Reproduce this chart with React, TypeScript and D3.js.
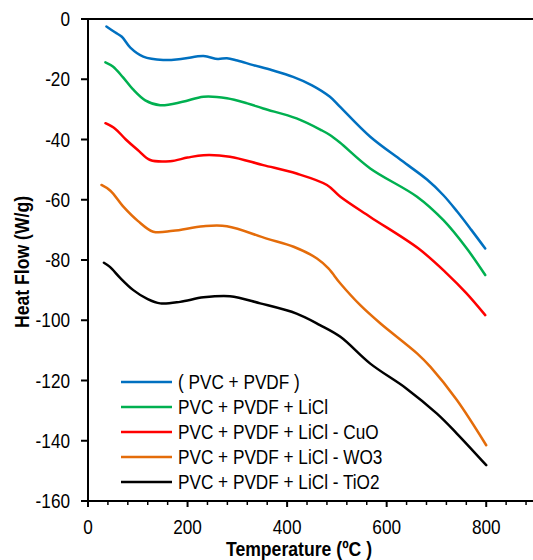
import React from "react";
import * as d3 from "d3";

const tBlue = [37, 55, 68, 85, 111, 151, 190, 232, 261, 279, 300, 332, 370, 412, 450, 486, 506, 567, 630, 681, 714, 742, 770, 798];
const hfBlue = [-2.5, -4.5, -5.9, -9.5, -12.5, -13.6, -13.2, -12.3, -13.3, -13.0, -13.8, -15.3, -17.0, -19.2, -22.0, -25.8, -29.1, -39.1, -47, -53.3, -58.5, -64, -70, -76.2];

const tGreen = [35, 50, 70, 90, 115, 145, 190, 232, 279, 320, 352, 419, 470, 486, 506, 567, 661, 714, 761, 798];
const hfGreen = [-14.4, -15.8, -19.3, -23.3, -27, -28.6, -27.5, -25.8, -26.3, -28.0, -29.7, -33, -37, -38.5, -41, -49.6, -59, -66.8, -76.2, -85];

const tRed = [35, 55, 76, 100, 125, 165, 200, 232, 285, 352, 419, 480, 507, 567, 664, 721, 760, 798];
const hfRed = [-34.6, -36.5, -40, -43.5, -46.8, -47.2, -46, -45.2, -45.7, -48.5, -51.3, -55.1, -59, -65.7, -76.2, -84.5, -91, -98.3];

const tOrange = [27, 45, 71, 100, 131, 171, 232, 279, 359, 413, 460, 483, 507, 547, 587, 661, 688, 741, 800];
const hfOrange = [-55.1, -57, -62.3, -67, -70.6, -70.3, -68.8, -68.8, -72.9, -75.6, -79.5, -82.8, -87.8, -95, -101, -111, -115.5, -126.5, -141.5];

const tBlack = [32, 44, 65, 91, 120, 145, 185, 232, 285, 346, 419, 466, 507, 567, 640, 701, 741, 800];
const hfBlack = [-80.9, -82.3, -86, -90, -93, -94.4, -93.9, -92.4, -92, -94.4, -97.8, -101.6, -105.5, -114.4, -122.7, -131, -137.6, -148.1];

const seriesNames = [
  "( PVC + PVDF )",
  "PVC + PVDF + LiCl",
  "PVC + PVDF + LiCl - CuO",
  "PVC + PVDF + LiCl - WO3",
  "PVC + PVDF + LiCl - TiO2",
];
const seriesColors = ["#0070C0", "#00B050", "#FF0000", "#E46C0A", "#000000"];
const seriesT = [tBlue, tGreen, tRed, tOrange, tBlack];
const seriesHF = [hfBlue, hfGreen, hfRed, hfOrange, hfBlack];

const xTicks = [0, 200, 400, 600, 800];
const yTicks = [0, -20, -40, -60, -80, -100, -120, -140, -160];

const W = 533;
const H = 560;
const FONT = "'Liberation Sans', Arial, sans-serif";
const SX = 0.86;

function T({ x, y, anchor = "start", size = 20, weight = "normal", children, rotate = 0 }: any) {
  return (
    <text
      transform={`translate(${x},${y}) rotate(${rotate}) scale(${SX},1)`}
      textAnchor={anchor}
      fontSize={size}
      fontWeight={weight}
      fontFamily={FONT}
      fill="#000"
    >
      {children}
    </text>
  );
}

export default function App() {
  const x = d3.scaleLinear().domain([0, 900]).range([88, 536]);
  const y = d3.scaleLinear().domain([-160, 0]).range([501, 19]);
  const line = d3
    .line<[number, number]>()
    .x((d) => x(d[0]))
    .y((d) => y(d[1]))
    .curve(d3.curveCatmullRom.alpha(0.5));

  const minor = d3.range(0, 901, 40).filter((v) => v % 200 !== 0);

  const legendY0 = 382;
  const legendStep = 25;

  return (
    <svg width={W} height={H} style={{ position: "absolute", left: 0, top: 0, background: "#fff" }}>
      <rect x={0} y={0} width={W} height={H} fill="#fff" />
      {/* frame */}
      <line x1={x(0)} x2={x(900)} y1={y(0)} y2={y(0)} stroke="#000" strokeWidth={2} />
      <line x1={x(900)} x2={x(900)} y1={y(0)} y2={y(-160)} stroke="#000" strokeWidth={2} />
      <line x1={x(0)} x2={x(0)} y1={y(0) - 1} y2={y(-160) + 1} stroke="#000" strokeWidth={2} />
      <line x1={x(0) - 1} x2={x(900)} y1={y(-160)} y2={y(-160)} stroke="#000" strokeWidth={2} />

      {/* x ticks */}
      {xTicks.map((v) => (
        <g key={"xt" + v}>
          <line x1={x(v)} x2={x(v)} y1={y(-160)} y2={y(-160) + 6} stroke="#000" strokeWidth={2} />
          <T x={x(v)} y={534} anchor="middle">{v}</T>
        </g>
      ))}
      {minor.map((v) => (
        <line key={"xm" + v} x1={x(v)} x2={x(v)} y1={y(-160)} y2={y(-160) + 4} stroke="#000" strokeWidth={1.5} />
      ))}

      {/* y ticks */}
      {yTicks.map((v) => (
        <g key={"yt" + v}>
          <line x1={x(0) - 7} x2={x(0)} y1={y(v)} y2={y(v)} stroke="#000" strokeWidth={2} />
          <T x={70} y={y(v) + 7} anchor="end">{v}</T>
        </g>
      ))}

      {/* series */}
      {seriesT.map((ts, i) => {
        const pts = ts.map((t, j) => [t, seriesHF[i][j]] as [number, number]);
        return (
          <path key={"s" + i} d={line(pts) || ""} fill="none" stroke={seriesColors[i]} strokeWidth={2.5} strokeLinejoin="round" strokeLinecap="round" />
        );
      })}

      {/* legend */}
      {seriesNames.map((n, i) => (
        <g key={"lg" + i}>
          <line x1={121} x2={172} y1={legendY0 + i * legendStep} y2={legendY0 + i * legendStep} stroke={seriesColors[i]} strokeWidth={2.5} />
          <T x={178} y={legendY0 + i * legendStep + 7}>{n}</T>
        </g>
      ))}

      {/* axis titles */}
      <T x={299} y={556} anchor="middle" weight="bold" size={20.5}>Temperature (ºC )</T>
      <T x={29} y={262} anchor="middle" weight="bold" size={20.5} rotate={-90}>Heat Flow (W/g)</T>
    </svg>
  );
}
